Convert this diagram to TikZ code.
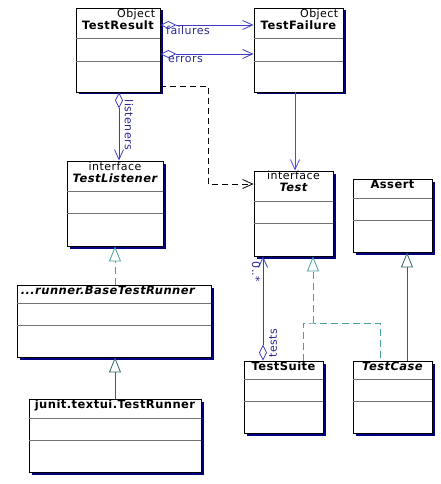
\documentclass[tikz,border=0pt]{standalone}
\usepackage{fontspec}
\setmainfont{DejaVu Sans}[LetterSpace=4]
\usetikzlibrary{positioning, arrows.meta, shadows}

\definecolor{shadownavy}{RGB}{0,0,128}
\definecolor{assocblue}{RGB}{60,60,190}
\definecolor{navblue}{RGB}{70,70,250}
\definecolor{labelnavy}{RGB}{40,40,150}
\definecolor{realteal}{RGB}{70,160,160}
\definecolor{genteal}{RGB}{50,100,100}

% two compartment lines below the header of a class box
\newcommand{\umlsplit}[3]{%
    \draw[compsep] ([yshift=-#2pt]#1.north west) -- ([yshift=-#2pt]#1.north east);
    \draw[compsep] ([yshift=-#3pt]#1.north west) -- ([yshift=-#3pt]#1.north east);}

\begin{document}
\begin{tikzpicture}[x=1pt, y=-1pt, font=\fontsize{11}{13}\selectfont,
        umlclass/.style={rectangle, draw=black, line width=0.9pt, fill=white, inner sep=0pt,
            drop shadow={shadow xshift=2.5pt, shadow yshift=-2.5pt, fill=shadownavy, opacity=1}},
        compsep/.style={black!55, line width=0.9pt},
        stereo/.style={inner sep=0pt, anchor=base},
        cname/.style={inner sep=0pt, anchor=base, font=\fontsize{11.5}{13}\selectfont\bfseries},
        aname/.style={cname, font=\fontsize{11.5}{13}\selectfont\bfseries\itshape},
        rolelabel/.style={inner sep=0pt, text=labelnavy},
        aggr/.style={assocblue, line width=0.8pt,
            {Diamond[open, length=16pt, width=8pt]}-{Straight Barb[length=10pt, width=9pt]}},
        navig/.style={navblue, line width=0.8pt, -{Straight Barb[length=10pt, width=9pt]}},
        dep/.style={black, line width=0.8pt, dash pattern=on 6pt off 4pt,
            -{Straight Barb[length=10pt, width=9pt]}},
        real/.style={realteal, line width=0.8pt, dash pattern=on 7pt off 4pt},
        gener/.style={genteal, line width=0.8pt},
        hollow/.style={-{Triangle[open, length=15pt, width=12pt]}}]
    \useasboundingbox (0,0) rectangle (441,484);

    % class boxes
    \node[umlclass, minimum width=84pt, minimum height=84pt] (result) at (118,50) {};
    \node[umlclass, minimum width=89pt, minimum height=84pt] (failure) at (298.5,50) {};
    \node[umlclass, minimum width=96pt, minimum height=85pt] (listener) at (115,203.5) {};
    \node[umlclass, minimum width=194pt, minimum height=72pt] (base) at (114,321) {};
    \node[umlclass, minimum width=172pt, minimum height=73pt] (runner) at (115,435.5) {};
    \node[umlclass, minimum width=79pt, minimum height=85pt] (test) at (293.5,213.5) {};
    \node[umlclass, minimum width=79pt, minimum height=73pt] (assert) at (392.5,215.5) {};
    \node[umlclass, minimum width=79pt, minimum height=72pt] (suite) at (283.5,397) {};
    \node[umlclass, minimum width=79pt, minimum height=72pt] (tcase) at (392.5,397) {};

    \umlsplit{result}{31}{54}
    \umlsplit{failure}{31}{54}
    \umlsplit{listener}{31}{53}
    \umlsplit{base}{19}{41}
    \umlsplit{runner}{20}{42}
    \umlsplit{test}{31}{53}
    \umlsplit{assert}{20}{42}
    \umlsplit{suite}{19}{41}
    \umlsplit{tcase}{19}{41}

    % headers
    \node[stereo, anchor=base east] (resultst) at ([xshift=-5pt, yshift=-10pt]result.north east) {Object};
    \node[cname] (resultnm) at ([yshift=-22pt]result.north) {TestResult};
    \node[stereo, anchor=base east] (failurest) at ([xshift=-5pt, yshift=-10pt]failure.north east) {Object};
    \node[cname] (failurenm) at ([yshift=-22pt]failure.north) {TestFailure};
    \node[stereo] (listenerst) at ([yshift=-10pt]listener.north) {interface};
    \node[aname] (listenernm) at ([yshift=-22pt]listener.north) {TestListener};
    \node[aname, anchor=base west] (basenm) at ([xshift=4pt, yshift=-10pt]base.north west) {...runner.BaseTestRunner};
    \node[cname] (runnernm) at ([yshift=-10pt]runner.north) {junit.textui.TestRunner};
    \node[stereo] (testst) at ([yshift=-9pt]test.north) {interface};
    \node[aname] (testnm) at ([yshift=-21pt]test.north) {Test};
    \node[cname] (assertnm) at ([yshift=-10pt]assert.north) {Assert};
    \node[cname] (suitenm) at ([yshift=-10pt]suite.north) {TestSuite};
    \node[aname] (tcasenm) at ([yshift=-10pt]tcase.north) {TestCase};

    % associations
    \draw[aggr] (result.east |- 0,25) -- (failure.west |- 0,25);
    \node[rolelabel, anchor=base west] (failureslbl) at (166,35) {failures};
    \draw[aggr] (result.east |- 0,54) -- (failure.west |- 0,54);
    \node[rolelabel, anchor=base west] (errorslbl) at (168,63) {errors};
    \draw[aggr] (result.south -| 119,0) -- (listener.north -| 119,0);
    \node[rolelabel, rotate=-90] (listenerslbl) at (129,125) {listeners};
    \draw[navig] (failure.south -| 295,0) -- (test.north -| 295,0);
    \draw[dep] (result.east |- 0,86) -- ++(48,0) |- (test.west |- 0,184);
    \draw[aggr] (suite.north -| 263,0) -- (test.south -| 263,0);
    \node[rolelabel, rotate=90] (testslbl) at (273,343) {tests};
    \node[rolelabel, rotate=-90] (multlbl) at (256,272) {0..*};

    % realizations and generalizations
    \draw[real, hollow] (base.north -| 115,0) -- (listener.south -| 115,0);
    \draw[gener, hollow] (runner.north -| 115,0) -- (base.south -| 115,0);
    \coordinate (realjoin) at (313,323);
    \draw[real] (suite.north -| 303,0) |- (realjoin) -| (tcase.north -| 380,0);
    \draw[real, hollow] (realjoin) -- (test.south -| realjoin);
    \draw[gener, hollow] (tcase.north -| 407,0) -- (assert.south -| 407,0);
\end{tikzpicture}
\end{document}
